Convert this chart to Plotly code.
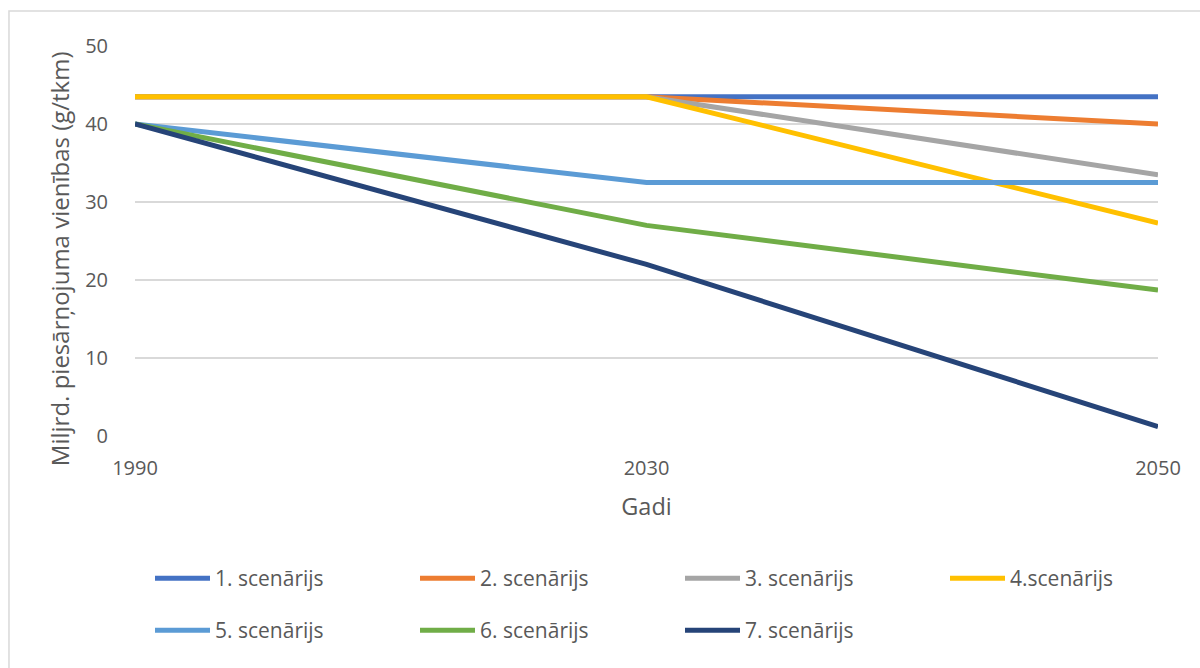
import plotly.graph_objects as go

# Scenario data: pollution per unit (g/tkm) by year
years = ["1990", "2030", "2050"]
scenario_names = ["1. scenārijs", "2. scenārijs", "3. scenārijs", "4.scenārijs",
                  "5. scenārijs", "6. scenārijs", "7. scenārijs"]
s1 = [43.5, 43.5, 43.5]
s2 = [43.5, 43.5, 40.0]
s3 = [43.5, 43.5, 33.5]
s4 = [43.5, 43.5, 27.3]
s5 = [40.0, 32.5, 32.5]
s6 = [40.0, 27.0, 18.7]
s7 = [40.0, 22.0, 1.2]
series = [s1, s2, s3, s4, s5, s6, s7]
colors = ["#4472C4", "#ED7D31", "#A5A5A5", "#FFC000", "#5B9BD5", "#70AD47", "#264478"]

FONT = "Open Sans"
TXT = "#595959"

# Plot area geometry (pixels) used to place legend entries in a 4-column grid
PLOT_L, PLOT_W = 135, 1023
PLOT_B, PLOT_H = 436, 390
COL_X = [150 + 265 * c for c in range(4)]
ROW_TOP = [558, 610]

fig = go.Figure()
legends = {}
for i, (name, vals, col) in enumerate(zip(scenario_names, series, colors)):
    key = "legend" if i == 0 else f"legend{i + 1}"
    fig.add_trace(go.Scatter(
        x=years, y=vals, name=name, mode="lines",
        line=dict(color=col, width=5),
        legend=key,
    ))
    r, c = divmod(i, 4)
    legends[key] = dict(
        x=(COL_X[c] - PLOT_L) / PLOT_W,
        y=-(ROW_TOP[r] - PLOT_B) / PLOT_H,
        orientation="h", xanchor="left", yanchor="top",
        font=dict(family=FONT, size=21, color=TXT),
        itemwidth=55, bgcolor="rgba(0,0,0,0)",
    )

fig.update_layout(
    width=1200, height=668,
    margin=dict(l=135, r=42, t=46, b=232),
    paper_bgcolor="white", plot_bgcolor="white",
    font=dict(family=FONT, size=20, color=TXT),
    showlegend=True,
    **legends,
    xaxis=dict(
        type="category", range=[0, 2],
        showgrid=False, showline=False, zeroline=False,
        ticks="", ticklabelstandoff=18,
        tickfont=dict(size=20, color=TXT),
        title=dict(text="Gadi", font=dict(size=23.5, color=TXT), standoff=18),
    ),
    yaxis=dict(
        range=[0, 50], dtick=10, tick0=0,
        showgrid=True, gridcolor="#D9D9D9", gridwidth=1.5,
        zeroline=False, showline=False, ticks="",
        ticklabelstandoff=26,
        tickfont=dict(size=20, color=TXT),
    ),
    annotations=[dict(
        text="Miljrd. piesārņojuma vienības (g/tkm)",
        xref="paper", yref="paper", x=-0.0743, y=0.456,
        xanchor="center", yanchor="middle", textangle=-90,
        showarrow=False, font=dict(size=24, color=TXT),
    )],
    shapes=[dict(
        type="rect", xref="paper", yref="paper",
        x0=-0.1232, x1=1.2, y0=-0.8, y1=1.0897,
        line=dict(color="#D9D9D9", width=1.5), fillcolor="rgba(0,0,0,0)",
        layer="below",
    )],
)

fig.write_html("out.html")
